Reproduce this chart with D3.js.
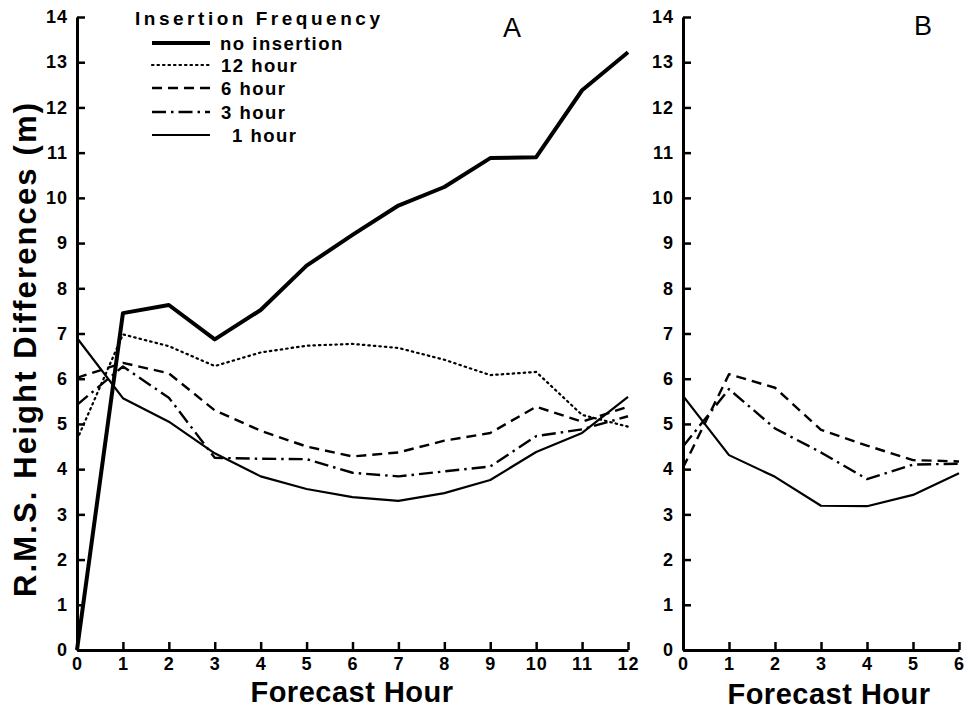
<!DOCTYPE html>
<html>
<head>
<meta charset="utf-8">
<title>RMS Height Differences</title>
<script src="https://d3js.org/d3.v7.min.js"></script>
<style>
  body { margin: 0; background: #fff; }
  svg { display: block; }
  text { font-family: "Liberation Sans", Arial, sans-serif; font-weight: bold; fill: #000; }
  .axis path, .axis line { stroke: #000; }
  .axis path { stroke-width: 3px; }
  .axis line { stroke-width: 2.5px; }
  .series { fill: none; stroke: #000; stroke-linejoin: round; }
</style>
</head>
<body>
<svg id="chart" width="971" height="711"></svg>
<script>
// panel A: forecast hours 0..12
const hoursA = [0, 1, 2, 3, 4, 5, 6, 7, 8, 9, 10, 11, 12];
const noInsertion = [0, 7.45, 7.63, 6.87, 7.52, 8.5, 9.18, 9.83, 10.24, 10.88, 10.9, 12.38, 13.22];
const hour12A = [4.65, 6.98, 6.72, 6.28, 6.58, 6.73, 6.77, 6.68, 6.42, 6.08, 6.15, 5.2, 4.94];
const hour6A = [6.02, 6.35, 6.12, 5.3, 4.85, 4.5, 4.28, 4.37, 4.63, 4.8, 5.38, 5.05, 5.38];
const hour3A = [5.42, 6.27, 5.58, 4.25, 4.23, 4.22, 3.92, 3.84, 3.95, 4.06, 4.73, 4.88, 5.17];
const hour1A = [6.9, 5.57, 5.05, 4.35, 3.84, 3.56, 3.38, 3.3, 3.47, 3.76, 4.38, 4.8, 5.6];

// panel B: forecast hours 0..6
const hoursB = [0, 1, 2, 3, 4, 5, 6];
const hour6B = [4.03, 6.1, 5.8, 4.87, 4.52, 4.2, 4.17];
const hour3B = [4.5, 5.77, 4.9, 4.37, 3.78, 4.1, 4.12];
const hour1B = [5.62, 4.31, 3.83, 3.19, 3.18, 3.43, 3.91];

const yTicks = d3.range(0, 15);
const legendItems = ["no insertion", "12 hour", "6 hour", "3 hour", "1 hour"];

const styles = {
  "no insertion": { w: 4, dash: null },
  "12 hour": { w: 2.2, dash: "1.5,4", cap: "round" },
  "6 hour": { w: 2.4, dash: "10,6" },
  "3 hour": { w: 2.4, dash: "14,5,2.5,5" },
  "1 hour": { w: 2.2, dash: null }
};

const svg = d3.select("#chart");

const y = d3.scaleLinear().domain([0, 14]).range([650, 17]);
const xA = d3.scaleLinear().domain([0, 12]).range([77, 628]);
const xB = d3.scaleLinear().domain([0, 6]).range([683, 959]);

function drawAxes(x, xTicks, x0) {
  const gy = svg.append("g").attr("class", "axis")
    .attr("transform", `translate(${x0},0)`)
    .call(d3.axisLeft(y).tickValues(yTicks).tickFormat(d3.format("d"))
      .tickSizeInner(-8).tickSizeOuter(0).tickPadding(9));
  gy.selectAll("text").style("font-size", "18px").style("letter-spacing", "1px");

  const gx = svg.append("g").attr("class", "axis")
    .attr("transform", "translate(0,650)")
    .call(d3.axisBottom(x).tickValues(xTicks).tickFormat(d3.format("d"))
      .tickSizeInner(-8).tickSizeOuter(0).tickPadding(7));
  gx.selectAll("text").style("font-size", "18px").style("letter-spacing", "1px");
}

drawAxes(xA, hoursA, 77);
drawAxes(xB, hoursB, 683);

function drawLine(x, xs, vals, name) {
  const s = styles[name];
  const line = d3.line().x((d, i) => x(xs[i])).y(d => y(d));
  svg.append("path").datum(vals)
    .attr("class", "series")
    .attr("d", line)
    .attr("stroke-width", s.w)
    .attr("stroke-dasharray", s.dash)
    .attr("stroke-linecap", s.cap || "butt");
}

drawLine(xA, hoursA, hour12A, "12 hour");
drawLine(xA, hoursA, hour6A, "6 hour");
drawLine(xA, hoursA, hour3A, "3 hour");
drawLine(xA, hoursA, hour1A, "1 hour");
drawLine(xA, hoursA, noInsertion, "no insertion");

drawLine(xB, hoursB, hour6B, "6 hour");
drawLine(xB, hoursB, hour3B, "3 hour");
drawLine(xB, hoursB, hour1B, "1 hour");

// panel letters
svg.append("text").attr("x", 512).attr("y", 37).attr("text-anchor", "middle")
  .style("font-size", "27px").style("font-weight", "normal").text("A");
svg.append("text").attr("x", 923).attr("y", 35).attr("text-anchor", "middle")
  .style("font-size", "27px").style("font-weight", "normal").text("B");

// axis titles
svg.append("text").attr("x", 352).attr("y", 702).attr("text-anchor", "middle")
  .style("font-size", "29px").style("letter-spacing", "0.5px").text("Forecast Hour");
svg.append("text").attr("x", 829).attr("y", 704).attr("text-anchor", "middle")
  .style("font-size", "29px").style("letter-spacing", "0.5px").text("Forecast Hour");
svg.append("text")
  .attr("transform", "translate(36,350) rotate(-90)")
  .attr("text-anchor", "middle")
  .attr("textLength", 494).attr("lengthAdjust", "spacing")
  .style("font-size", "31px").text("R.M.S. Height Differences (m)");

// legend
const legend = svg.append("g");
legend.append("text").attr("x", 135).attr("y", 25)
  .attr("textLength", 245).attr("lengthAdjust", "spacing")
  .style("font-size", "19px").text("Insertion Frequency");
const rowY = [43, 65, 88, 112, 135];
const textX = [220, 221, 221, 221, 232];
legendItems.forEach((name, i) => {
  const s = styles[name];
  legend.append("line")
    .attr("x1", 152).attr("x2", 210).attr("y1", rowY[i]).attr("y2", rowY[i])
    .attr("stroke", "#000").attr("stroke-width", s.w)
    .attr("stroke-dasharray", s.dash).attr("stroke-linecap", s.cap || "butt");
  legend.append("text").attr("x", textX[i]).attr("y", rowY[i] + 7)
    .style("font-size", "18.5px").style("letter-spacing", "1.5px").text(name);
});
</script>
</body>
</html>
